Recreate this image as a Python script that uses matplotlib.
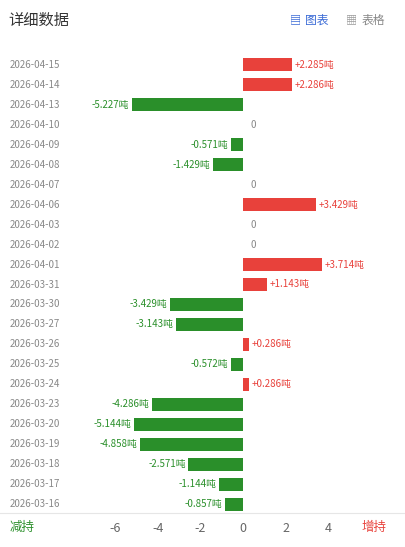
import matplotlib.pyplot as plt
import matplotlib.transforms as mtransforms

plt.rcParams['font.family'] = ['Noto Sans CJK SC', 'DejaVu Sans']

dates = ['2026-04-15', '2026-04-14', '2026-04-13', '2026-04-10', '2026-04-09',
         '2026-04-08', '2026-04-07', '2026-04-06', '2026-04-03', '2026-04-02',
         '2026-04-01', '2026-03-31', '2026-03-30', '2026-03-27', '2026-03-26',
         '2026-03-25', '2026-03-24', '2026-03-23', '2026-03-20', '2026-03-19',
         '2026-03-18', '2026-03-17', '2026-03-16']
values = [2.285, 2.286, -5.227, 0, -0.571, -1.429, 0, 3.429, 0, 0, 3.714, 1.143,
          -3.429, -3.143, 0.286, -0.572, 0.286, -4.286, -5.144, -4.858, -2.571,
          -1.144, -0.857]
ticks = [-6, -4, -2, 0, 2, 4]

red = '#e8413b'
green = '#2a8f2a'

fig = plt.figure(figsize=(4.06, 5.47), dpi=100)
ax = fig.add_axes([100 / 406, 1 - 514 / 547, 275 / 406, 459 / 547])
ypos = list(range(len(dates)))
colors = [red if v > 0 else green for v in values]
ax.barh(ypos, values, height=0.65, color=colors)
ax.set_ylim(len(dates) - 0.5, -0.5)
ax.set_xlim(-6.73, 6.2)
ax.set_yticks([])
ax.set_xticks(ticks)
ax.set_xticklabels([str(t) for t in ticks], fontsize=9, color='#666666')
ax.tick_params(axis='x', length=0, pad=6)
for s in ax.spines.values():
    s.set_visible(False)

trans = mtransforms.blended_transform_factory(fig.transFigure, ax.transData)
for i, (d, v) in enumerate(zip(dates, values)):
    ax.text(10 / 406, i, d, transform=trans, fontsize=7, color='#888888',
            va='center', ha='left')
    if v > 0:
        ax.text(v + 0.12, i, f'+{v:.3f}吨', fontsize=7, color=red, va='center', ha='left')
    elif v < 0:
        ax.text(v - 0.12, i, f'{v:.3f}吨', fontsize=7, color=green, va='center', ha='right')
    else:
        ax.text(0.35, i, '0', fontsize=7, color='#888888', va='center', ha='left')

fig.add_artist(plt.Line2D([0, 1], [1 - 513 / 547] * 2, color='#e6e6e6', lw=0.8))
fig.text(8 / 406, 1 - 20 / 547, '详细数据', fontsize=11, color='#333333', va='center')
fig.text(305 / 406, 1 - 20 / 547, '图表', fontsize=8.5, color='#3b6bd6', va='center')
fig.text(362 / 406, 1 - 20 / 547, '表格', fontsize=8.5, color='#888888', va='center')
fig.text(290 / 406, 1 - 20 / 547, '▤', fontsize=8, color='#3b6bd6', va='center')
fig.text(346 / 406, 1 - 20 / 547, '▦', fontsize=8, color='#999999', va='center')
fig.text(10 / 406, 1 - 527 / 547, '减持', fontsize=9, color=green, va='center')
fig.text(362 / 406, 1 - 527 / 547, '增持', fontsize=9, color=red, va='center')

fig.savefig('out.png', dpi=100)
